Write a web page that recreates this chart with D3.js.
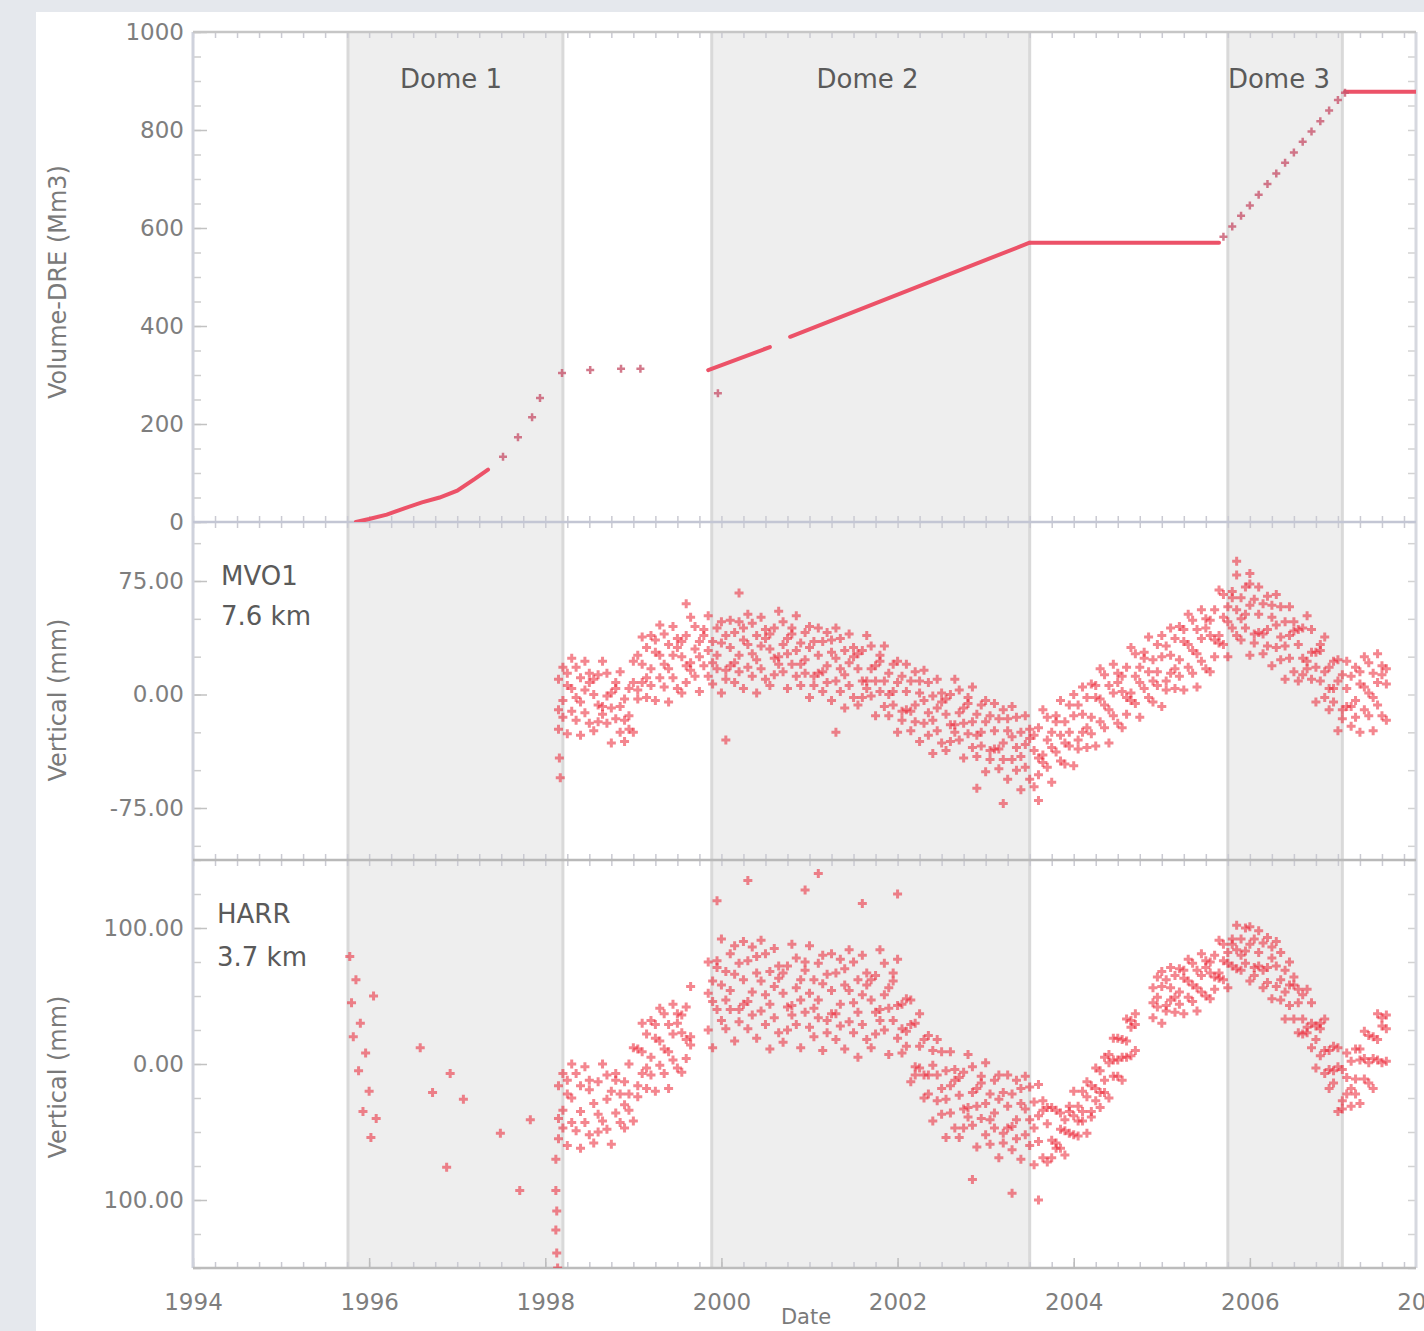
<!DOCTYPE html>
<html>
<head>
<meta charset="utf-8">
<script src="https://cdn.jsdelivr.net/npm/d3@7"></script>
<style>
body { margin: 0; background: #e5e8ed; }
svg { display: block; }
text { font-family: "DejaVu Sans", sans-serif; }
</style>
</head>
<body>
<svg id="chart"></svg>
<script>
// ---- data ----
var yearTicks = [1994, 1996, 1998, 2000, 2002, 2004, 2006, 2008];
var volTicks = [0, 200, 400, 600, 800, 1000];
var mvoTicks = [-75, 0, 75];
var mvoTickLabels = ["-75.00", "0.00", "75.00"];
var harrTicks = [-100, 0, 100];
var harrTickLabels = ["100.00", "0.00", "100.00"];

var domeNames = ["Dome 1", "Dome 2", "Dome 3"];
var domeStart = [1995.76, 1999.89, 2005.75];
var domeEnd = [1998.2, 2003.5, 2007.05];
var domeLabelYear = [1996.93, 2001.66, 2006.33];

// extruded volume (Mm3 DRE)
var volDome1Line = [[1995.85,0],[1996.0,6],[1996.2,15],[1996.4,28],[1996.6,40],[1996.8,50],[1997.0,64],[1997.2,88],[1997.35,107]];
var volDome1Dots = [[1997.52,133],[1997.69,173],[1997.85,214],[1997.94,253],[1998.19,304]];
var volPauseDots = [[1998.51,310],[1998.86,313],[1999.08,313],[1999.96,263]];
var volDome2LineA = [[1999.85,310],[2000.55,357]];
var volDome2LineB = [[2000.78,378],[2003.5,570]];
var volPlateau1 = [[2003.5,570],[2005.65,570]];
var volDome3Dots = [[2005.7,582],[2005.8,603],[2005.9,625],[2006.0,646],[2006.1,668],[2006.2,690],[2006.3,711],[2006.4,733],[2006.5,754],[2006.6,776],[2006.7,797],[2006.8,818],[2006.9,840],[2007.0,861],[2007.08,876]];
var volPlateau2 = [[2007.08,878],[2007.9,878]];

// MVO1 vertical (mm): [year, values...]
var mvo1Cols = [
[1998.15,10,-10,-23],[1998.20,-4,18,-15],[1998.25,6,-26,14],[1998.30,-11,4,24],[1998.35,18,-17,-2],[1998.40,-5,11,-27],[1998.45,22,-12,3],[1998.50,-19,8,14],[1998.55,0,-24,10],[1998.60,13,-7,-18],
[1998.65,-13,22,-8],[1998.70,-1,-19,14],[1998.75,-32,1,-9],[1998.80,4,-16,8],[1998.85,-25,-8,15],[1998.90,-3,-31,-17],[1998.95,-14,4,-23],[1999.00,22,-25,8],[1999.05,3,26,-3],[1999.10,20,8,38],
[1999.15,31,11,-2],[1999.20,17,39,6],[1999.25,28,-4,36],[1999.30,11,26,46],[1999.35,40,5,20],[1999.40,17,33,-5],[1999.45,45,11,26],[1999.50,4,31,37],[1999.55,25,1,35],[1999.60,39,19,8],
[1999.65,16,51,21],[1999.70,30,12,45],[1999.75,2,35,25],[1999.80,39,19,43],[1999.85,12,29,52],[1999.90,35,7,21],[1999.95,26,44,17],[2000.00,48,1,34],[2000.05,16,39,10],[2000.10,31,19,49],
[2000.15,41,21,8],[2000.20,26,48,15],[2000.25,36,4,44],[2000.30,18,33,53],[2000.35,47,12,27],[2000.40,23,39,1],[2000.45,51,17,32],[2000.50,10,37,43],[2000.55,30,6,40],[2000.60,44,24,13],
[2000.65,20,55,25],[2000.70,33,15,48],[2000.75,4,37,27],[2000.80,40,20,44],[2000.85,12,29,52],[2000.90,34,6,20],[2000.95,23,41,14],[2001.00,45,-2,31],[2001.05,12,35,6],[2001.10,26,14,44],
[2001.15,35,15,2],[2001.20,19,41,8],[2001.25,28,-4,36],[2001.30,9,24,44],[2001.35,37,2,17],[2001.40,13,29,-9],[2001.45,40,6,21],[2001.50,-2,25,31],[2001.55,17,-7,27],[2001.60,29,9,-2],
[2001.65,4,39,9],[2001.70,17,-1,32],[2001.75,-14,19,9],[2001.80,22,2,26],[2001.85,-8,9,32],[2001.90,14,-14,0],[2001.95,2,20,-7],[2002.00,22,-25,8],[2002.05,-11,12,-17],[2002.10,2,-10,20],
[2002.15,9,-11,-24],[2002.20,-7,15,-18],[2002.25,1,-31,9],[2002.30,-19,-4,16],[2002.35,8,-27,-12],[2002.40,-17,-1,-39],[2002.45,10,-24,-9],[2002.50,-32,-5,1],[2002.55,-13,-37,-3],[2002.60,0,-20,-31],
[2002.65,-25,10,-20],[2002.70,-12,-30,3],[2002.75,-42,-9,-19],[2002.80,-6,-26,-2],[2002.85,-35,-18,5],[2002.90,-13,-41,-27],[2002.95,-25,-7,-34],[2003.00,-4,-51,-18],[2003.05,-37,-14,-43],[2003.10,-24,-36,-6],
[2003.15,-16,-36,-49],[2003.20,-32,-10,-43],[2003.25,-24,-56,-16],[2003.30,-43,-28,-8],[2003.35,-15,-50,-35],[2003.40,-41,-25,-63],[2003.45,-14,-48,-33],[2003.50,-56,-29,-23],[2003.55,-37,-61,-27],[2003.60,-22,-42,-53],
[2003.65,-45,-10,-40],[2003.70,-30,-48,-15],[2003.75,-58,-25,-35],[2003.80,-18,-38,-14],[2003.85,-44,-27,-4],[2003.90,-18,-46,-32],[2003.95,-25,-7,-34],[2004.00,0,-47,-14],[2004.05,-30,-7,-36],[2004.10,-13,-25,5],
[2004.15,-2,-22,-35],[2004.20,-15,7,-26],[2004.25,-2,-34,6],[2004.30,-18,-3,17],[2004.35,13,-22,-7],[2004.40,-10,6,-32],[2004.45,20,-14,1],[2004.50,-19,8,14],[2004.55,2,-22,12],[2004.60,18,-2,-13],
[2004.65,-4,31,1],[2004.70,12,-6,27],[2004.75,-15,18,8],[2004.80,24,4,28],[2004.85,-2,15,38],[2004.90,23,-5,9],[2004.95,15,33,6],[2005.00,39,-8,25],[2005.05,9,32,3],[2005.10,26,14,44],
[2005.15,37,17,4],[2005.20,23,45,12],[2005.25,35,3,43],[2005.30,18,33,53],[2005.35,49,14,29],[2005.40,27,43,5],[2005.45,56,22,37],[2005.50,17,44,50],[2005.55,39,15,49],[2005.60,56,36,25],
[2005.65,34,69,39],[2005.70,51,33,66],[2005.75,25,58,48],[2005.80,64,44,68],[2005.85,39,56,79],[2005.90,64,36,50],[2005.95,53,71,44],[2006.00,73,26,59],[2006.05,40,63,34],[2006.10,53,41,71],
[2006.15,60,40,27],[2006.20,43,65,32],[2006.25,51,19,59],[2006.30,31,46,66],[2006.35,58,23,38],[2006.40,32,48,10],[2006.45,58,24,39],[2006.50,15,42,48],[2006.55,33,9,43],[2006.60,44,24,13],
[2006.65,17,52,22],[2006.70,28,10,43],[2006.75,-5,28,18],[2006.80,29,9,33],[2006.85,-2,15,38],[2006.90,18,-10,4],[2006.95,4,22,-5],[2007.00,23,-24,9],[2007.05,-10,13,-16],[2007.10,4,-8,22],
[2007.15,12,-8,-21],[2007.20,-4,18,-15],[2007.25,7,-25,15],[2007.30,-10,5,25],[2007.35,21,-14,1],[2007.40,-2,14,-24],[2007.45,27,-7,8],[2007.50,-14,13,19],[2007.55,7,-17,17]
];
var mvo1Outliers = [[1998.16,-42],[1998.17,-55],[1999.6,60],[2000.2,67],[2000.05,-30],[2001.3,-25],[2003.2,-72],[2002.9,-62],[2005.85,88],[2006.0,80],[2003.6,-70]];

// HARR vertical (mm): [year, values...]
var harrCols = [
[1998.15,-16,-40,-55],[1998.20,-34,-7,-47],[1998.25,-22,-60,-12],[1998.30,-43,-25,0],[1998.35,-7,-49],[1998.40,-35,-16,-62],[1998.45,-2,-43],[1998.50,-52,-19,-12],[1998.55,-29,-58],[1998.60,-13,-37,-50],
[1998.65,-42,0],[1998.70,-26,-48,-8],[1998.75,-59,-20],[1998.80,-12,-36,-7],[1998.85,-43,-22],[1998.90,-13,-47,-30],[1998.95,-22,0,-34],[1999.00,12,-42],[1999.05,-16,11,-24],[1999.10,9,-7,30],
[1999.15,22,-3,-18],[1999.20,5,32,-8],[1999.25,19,-20,29],[1999.30,-1,17,41],[1999.35,37,-7,11],[1999.40,9,29,-18],[1999.45,44,3,22],[1999.50,-3,30,37],[1999.55,23,-6,36],[1999.60,42,18,4],
[1999.65,14,57,20],[1999.85,52,25,75],[1999.90,12,61,46],[1999.95,71,40,76],[2000.00,32,58,92],[2000.05,68,26,47],[2000.10,54,81,40],[2000.15,87,17,66],[2000.20,40,74,31],[2000.25,62,44,90],
[2000.30,76,46,26],[2000.35,53,86,36],[2000.40,67,19,79],[2000.45,39,61,91],[2000.50,81,29,51],[2000.55,44,68,11],[2000.60,85,34,57],[2000.65,23,63,72],[2000.70,52,16,67],[2000.75,72,42,25],
[2000.80,36,88,43],[2000.85,56,29,78],[2000.90,12,62,47],[2000.95,69,38,75],[2001.00,27,52,87],[2001.05,62,20,41],[2001.10,47,74,34],[2001.15,80,10,59],[2001.20,32,66,23],[2001.25,54,37,81],
[2001.30,67,37,18],[2001.35,44,77,28],[2001.40,58,11,70],[2001.45,31,54,84],[2001.50,75,23,45],[2001.55,38,62,5],[2001.60,80,29,51],[2001.65,18,58,67],[2001.70,47,12,62],[2001.75,65,38,22],
[2001.80,32,84,40],[2001.85,51,25,74],[2001.90,7,56,41],[2001.95,61,32,67],[2002.00,19,43,77],[2002.05,44,8,26],[2002.10,24,48,13],[2002.15,47,-13,29],[2002.20,-2,30,-8],[2002.25,13,-3,37],
[2002.30,18,-8,-25],[2002.35,-8,21,-22],[2002.40,-1,-42,10],[2002.45,-27,-8,18],[2002.50,9,-37,-18],[2002.55,-26,-5,-54],[2002.60,9,-36,-16],[2002.65,-47,-12,-4],[2002.70,-23,-54,-10],[2002.75,-6,-33,-47],
[2002.80,-39,7,-32],[2002.85,-21,-45,-2],[2002.90,-61,-18,-31],[2002.95,-14,-40,-9],[2003.00,-52,-29,1],[2003.05,-22,-59,-41],[2003.10,-36,-12,-47],[2003.15,-8,-69,-26],[2003.20,-51,-21,-58],[2003.25,-31,-47,-8],
[2003.30,-22,-46,-63],[2003.35,-41,-12,-55],[2003.40,-29,-70,-18],[2003.45,-52,-33,-9],[2003.50,-17,-60,-41],[2003.55,-47,-28,-74],[2003.60,-15,-57,-38],[2003.65,-69,-34,-27],[2003.70,-44,-72,-32],[2003.75,-32,-56,-69],
[2003.80,-62,-34,-58],[2003.85,-48,-62,-36],[2003.90,-67,-41,-49],[2003.95,-35,-51,-31],[2004.00,-52,-38,-20],[2004.05,-31,-53,-42],[2004.10,-35,-20,-42],[2004.15,-13,-51,-24],[2004.20,-35,-16,-39],[2004.25,-18,-27,-3],
[2004.30,-5,-21,-32],[2004.35,-12,5,-21],[2004.40,1,-25,7],[2004.45,-9,3,19],[2004.50,19,-9,3],[2004.55,5,18,-12],[2004.60,33,5,17],[2004.65,6,27,32],[2004.70,29,10,37],
[2004.90,56,34,45],[2004.95,49,64,42],[2005.00,68,30,57],[2005.05,43,62,39],[2005.10,56,47,71],[2005.15,65,49,38],[2005.20,53,70,44],[2005.25,63,37,69],[2005.30,49,61,77],[2005.35,74,46,58],
[2005.40,56,69,39],[2005.45,81,53,65],[2005.50,50,71,76],[2005.55,67,48,75],[2005.60,80,64,55],[2005.65,63,91,67],[2005.70,76,62,88],[2005.75,56,82,74],[2005.80,88,72,92],[2005.85,70,84,102],
[2005.90,92,69,80],[2005.95,83,100,74],[2006.00,101,61,88],[2006.05,71,92,65],[2006.10,82,72,98],[2006.15,89,69,56],[2006.20,71,93,60],[2006.25,78,48,86],[2006.30,57,72,90],[2006.35,82,47,62],
[2006.40,53,69,33],[2006.45,75,43,58],[2006.50,33,58,64],[2006.55,45,23,55],[2006.60,51,33,22],[2006.65,23,55,27],[2006.70,30,12,45],[2006.75,-3,28,18],[2006.80,26,6,30],[2006.85,-7,10,33],
[2006.90,10,-18,-4],[2006.95,-5,13,-14],[2007.00,12,-35,-2],[2007.05,-27,-4,-33],[2007.10,-10,-22,8],[2007.15,2,-18,-31],[2007.20,-11,11,-22],[2007.25,3,-29,11],[2007.30,-11,4,24],[2007.35,21,-14,1],
[2007.40,4,20,-18],[2007.45,37,3,18],[2007.50,1,28,34],[2007.55,26,2,36]
];
var harrEarly = [[1995.78,79],[1995.8,45],[1995.82,20],[1995.85,62],[1995.88,-5],[1995.9,30],[1995.93,-35],[1995.96,8],[1996.0,-20],[1996.02,-54],[1996.05,50],[1996.08,-40],
[1996.58,12],[1996.72,-21],[1996.88,-76],[1996.92,-7],[1997.07,-26],[1997.49,-51],[1997.71,-93],[1997.83,-41],
[1998.12,-93],[1998.13,-108],[1998.12,-122],[1998.13,-139],[1998.14,-150],[1998.12,-70]];
var harrOutliers = [[1999.95,120],[2000.3,135],[2000.95,128],[2001.1,140],[2001.6,118],[2002.0,125],[2003.3,-95],[2003.6,-100],[2002.85,-85]];

// ---- layout ----
var W = 1424, H = 1331;
var plotLeft = 193, plotRight = 1416;
var svg = d3.select("#chart").attr("width", W).attr("height", H);

svg.append("rect").attr("width", W).attr("height", H).attr("fill", "#e5e8ed");
svg.append("rect").attr("x", 36).attr("y", 12).attr("width", W - 36).attr("height", H - 12).attr("fill", "#ffffff");

var x = d3.scaleLinear().domain([1994, 2008]).range([193, 1426]);
var yVol = d3.scaleLinear().domain([0, 1000]).range([522, 32]);
var yMvo = d3.scaleLinear().domain([-75, 75]).range([808, 581]);
var yHarr = d3.scaleLinear().domain([-100, 100]).range([1200, 928]);

var panels = [
  {id: "p1", top: 32, bottom: 522, y: yVol},
  {id: "p2", top: 522, bottom: 860, y: yMvo},
  {id: "p3", top: 860, bottom: 1268, y: yHarr}
];

var defs = svg.append("defs");
panels.forEach(function (p) {
  defs.append("clipPath").attr("id", "clip-" + p.id)
    .append("rect").attr("x", plotLeft).attr("y", p.top)
    .attr("width", plotRight - plotLeft).attr("height", p.bottom - p.top);
});

// dome shading
var domeG = svg.append("g");
domeNames.forEach(function (name, i) {
  domeG.append("rect")
    .attr("x", x(domeStart[i])).attr("y", 32)
    .attr("width", x(domeEnd[i]) - x(domeStart[i])).attr("height", 1268 - 32)
    .attr("fill", "#eeeeee");
  [domeStart[i], domeEnd[i]].forEach(function (t) {
    domeG.append("line")
      .attr("x1", x(t)).attr("x2", x(t)).attr("y1", 32).attr("y2", 1268)
      .attr("stroke", "#d9d9d9").attr("stroke-width", 3);
  });
  domeG.append("text")
    .attr("x", x(domeLabelYear[i]))
    .attr("y", 88).attr("text-anchor", "middle")
    .attr("font-size", 26).attr("fill", "#5a5a5a")
    .text(name);
});

// ---- axes ----
function styleAxis(g, color) {
  g.select(".domain").remove();
  g.selectAll(".tick line").attr("stroke", color).attr("stroke-width", 1.5);
  g.selectAll(".tick text").attr("fill", "#7e7e7e").attr("font-size", 23)
    .attr("font-family", "DejaVu Sans, sans-serif");
}

var minorY = [d3.range(0, 1001, 50), d3.range(-100, 114, 25), d3.range(-150, 151, 25)];
var majorY = [volTicks, mvoTicks, harrTicks];
var majorLab = [
  function (d) { return d; },
  function (d) { return mvoTickLabels[mvoTicks.indexOf(d)]; },
  function (d) { return harrTickLabels[harrTicks.indexOf(d)]; }
];

panels.forEach(function (p, i) {
  var gMinor = svg.append("g").attr("transform", "translate(" + plotLeft + ",0)")
    .call(d3.axisLeft(p.y).tickValues(minorY[i]).tickSize(-8).tickFormat(""));
  styleAxis(gMinor, "#cdcdcd");
  var gMajor = svg.append("g").attr("transform", "translate(" + plotLeft + ",0)")
    .call(d3.axisLeft(p.y).tickValues(majorY[i]).tickSize(-14).tickPadding(9).tickFormat(majorLab[i]));
  styleAxis(gMajor, "#c2c2c2");
  var gRight = svg.append("g").attr("transform", "translate(" + plotRight + ",0)")
    .call(d3.axisRight(p.y).tickValues(minorY[i]).tickSize(-8).tickFormat(""));
  styleAxis(gRight, "#d3d3d3");
  // keep ticks inside the panel
  [gMinor, gMajor, gRight].forEach(function (g) {
    g.selectAll(".tick").filter(function (d) { var yy = p.y(d); return yy < p.top || yy > p.bottom; }).remove();
  });
});

// x ticks along each panel edge
var minorX = d3.range(1994, 2007.9, 0.25);
[32, 522, 860].forEach(function (yy) {
  var g = svg.append("g").attr("transform", "translate(0," + yy + ")")
    .call(d3.axisTop(x).tickValues(minorX).tickSize(-6).tickFormat(""));
  styleAxis(g, "#cacad2");
});
[522, 860, 1268].forEach(function (yy) {
  var g = svg.append("g").attr("transform", "translate(0," + yy + ")")
    .call(d3.axisBottom(x).tickValues(minorX).tickSize(-6).tickFormat(""));
  styleAxis(g, "#cacad2");
});
var xAxisG = svg.append("g").attr("transform", "translate(0,1268)")
  .call(d3.axisBottom(x).tickValues(yearTicks).tickSize(-10).tickPadding(26).tickFormat(d3.format("d")));
styleAxis(xAxisG, "#bdbdbd");

// frame lines
svg.append("line").attr("x1", plotLeft).attr("x2", plotLeft).attr("y1", 32).attr("y2", 1268)
  .attr("stroke", "#cfd2dc").attr("stroke-width", 3);
svg.append("line").attr("x1", plotRight).attr("x2", plotRight).attr("y1", 32).attr("y2", 1268)
  .attr("stroke", "#d6d8df").attr("stroke-width", 3);
[[32, "#c6c6c6"], [522, "#c3c6d4"], [860, "#b9b9b9"], [1268, "#bcbcbc"]].forEach(function (e) {
  svg.append("line").attr("x1", plotLeft).attr("x2", plotRight).attr("y1", e[0]).attr("y2", e[0])
    .attr("stroke", e[1]).attr("stroke-width", 2.5);
});

// ---- volume panel ----
var volG = svg.append("g").attr("clip-path", "url(#clip-p1)");
var volLine = d3.line().x(function (d) { return x(d[0]); }).y(function (d) { return yVol(d[1]); });
[volDome1Line, volDome2LineA, volDome2LineB, volPlateau1, volPlateau2].forEach(function (seg) {
  volG.append("path").datum(seg).attr("d", volLine)
    .attr("fill", "none").attr("stroke", "#ec5268").attr("stroke-width", 4).attr("stroke-linecap", "round");
});
function plus(s) { return function (d) { return "M-" + s + ",0H" + s + "M0,-" + s + "V" + s; }; }
volG.selectAll(".vdot").data(volDome1Dots.concat(volPauseDots, volDome3Dots)).join("path")
  .attr("class", "vdot")
  .attr("transform", function (d) { return "translate(" + x(d[0]) + "," + yVol(d[1]) + ")"; })
  .attr("d", plus(4)).attr("stroke", "#c9586f").attr("stroke-width", 2.5).attr("opacity", 0.8);

// ---- GPS panels ----
function flatten(cols) {
  var out = [];
  cols.forEach(function (c) { c.slice(1).forEach(function (v) { out.push([c[0], v]); }); });
  return out;
}
function scatter(id, pts, y) {
  svg.append("g").attr("clip-path", "url(#clip-" + id + ")")
    .selectAll("path").data(pts).join("path")
    .attr("transform", function (d) { return "translate(" + x(d[0]) + "," + y(d[1]) + ")"; })
    .attr("d", plus(4.5))
    .attr("stroke", "#ec2434").attr("stroke-width", 3).attr("opacity", 0.55);
}
scatter("p2", flatten(mvo1Cols).concat(mvo1Outliers), yMvo);
scatter("p3", flatten(harrCols).concat(harrEarly, harrOutliers), yHarr);

// ---- labels ----
var labels = svg.append("g").attr("fill", "#5a5a5a").attr("font-size", 26);
labels.append("text").attr("x", 221).attr("y", 585).text("MVO1");
labels.append("text").attr("x", 221).attr("y", 625).text("7.6 km");
labels.append("text").attr("x", 217).attr("y", 923).text("HARR");
labels.append("text").attr("x", 217).attr("y", 966).text("3.7 km");

function yTitle(txt, cy) {
  svg.append("text").attr("transform", "translate(66," + cy + ") rotate(-90)")
    .attr("text-anchor", "middle").attr("font-size", 24).attr("fill", "#7a7a7a").text(txt);
}
yTitle("Volume-DRE (Mm3)", 282);
yTitle("Vertical (mm)", 700);
yTitle("Vertical (mm)", 1077);

svg.append("text").attr("x", 806).attr("y", 1324).attr("text-anchor", "middle")
  .attr("font-size", 21).attr("fill", "#7a7a7a").text("Date");
</script>
</body>
</html>
